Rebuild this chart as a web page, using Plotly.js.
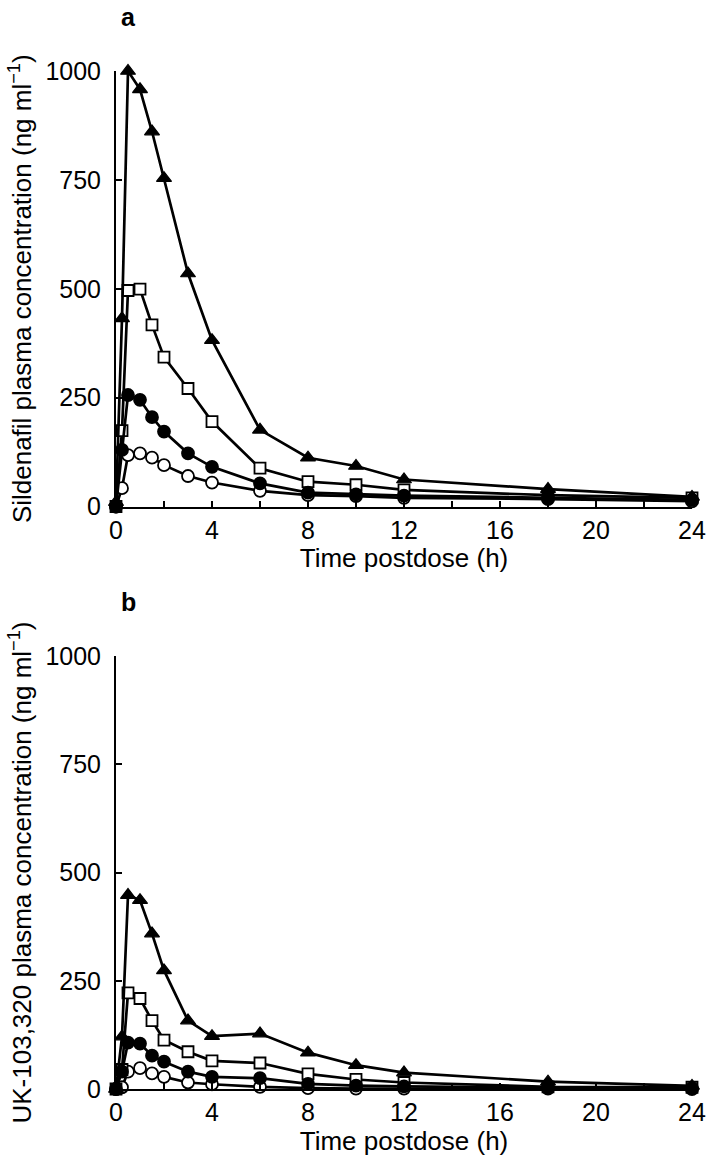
<!DOCTYPE html>
<html>
<head>
<meta charset="utf-8">
<script src="https://cdn.plot.ly/plotly-3.0.1.min.js"></script>
<style>
  html, body { margin: 0; padding: 0; background: #ffffff; }
  #chart { width: 714px; height: 1168px; }
</style>
</head>
<body>
<div id="chart"></div>
<script>
// Sampling times (h)
const times = [0, 0.25, 0.5, 1, 1.5, 2, 3, 4, 6, 8, 10, 12, 18, 24];

// Panel a: sildenafil plasma concentration (ng/ml)
const sildOpenCircle   = [0, 42, 118, 122, 112, 95, 70, 55, 36, 26, 24, 20, 17, 12];
const sildFilledCircle = [0, 130, 256, 245, 205, 172, 122, 91, 53, 32, 28, 25, 20, 15];
const sildOpenSquare   = [0, 174, 496, 499, 417, 343, 271, 195, 88, 57, 50, 38, 26, 20];
const sildTriangle     = [10, 432, 1000, 958, 861, 754, 535, 382, 176, 112, 93, 62, 40, 22];

// Panel b: UK-103,320 plasma concentration (ng/ml)
const ukOpenCircle   = [0, 4, 40, 48, 36, 28, 15, 11, 5, 2, 1, 1, 1, 0];
const ukFilledCircle = [0, 40, 107, 105, 77, 63, 40, 28, 25, 12, 8, 6, 3, 2];
const ukOpenSquare   = [0, 45, 222, 209, 158, 113, 86, 65, 60, 35, 22, 15, 5, 4];
const ukTriangle     = [0, 121, 448, 436, 359, 274, 158, 122, 128, 84, 55, 38, 17, 7];

// Axis ticks
const xTickVals = [0, 4, 8, 12, 16, 20, 24];
const xTickText = ['0', '4', '8', '12', '16', '20', '24'];
const xMinorVals = [2, 6, 10, 14, 18, 22];
const yTickVals = [0, 250, 500, 750, 1000];
const yTickText = ['0', '250', '500', '750', '1000'];

const FONT = 'Liberation Sans, Arial, Helvetica, sans-serif';

const styles = {
  openCircle:   {symbol: 'circle',       size: 12, color: '#ffffff', line: {color: '#000000', width: 1.8}},
  filledCircle: {symbol: 'circle',       size: 12, color: '#000000', line: {color: '#000000', width: 1.8}},
  openSquare:   {symbol: 'square',       size: 11, color: '#ffffff', line: {color: '#000000', width: 1.8}},
  triangle:     {symbol: 'triangle-up',  size: 13, color: '#000000', line: {color: '#000000', width: 1.2}}
};

function tr(y, style, xa, ya) {
  return {
    x: times, y: y, xaxis: xa, yaxis: ya,
    type: 'scatter', mode: 'lines+markers',
    line: {color: '#000000', width: 2.7},
    marker: style,
    cliponaxis: false,
    showlegend: false,
    hoverinfo: 'x+y'
  };
}

const data = [
  tr(sildOpenCircle, styles.openCircle, 'x', 'y'),
  tr(sildOpenSquare, styles.openSquare, 'x', 'y'),
  tr(sildTriangle, styles.triangle, 'x', 'y'),
  tr(sildFilledCircle, styles.filledCircle, 'x', 'y'),
  tr(ukOpenCircle, styles.openCircle, 'x2', 'y2'),
  tr(ukOpenSquare, styles.openSquare, 'x2', 'y2'),
  tr(ukTriangle, styles.triangle, 'x2', 'y2'),
  tr(ukFilledCircle, styles.filledCircle, 'x2', 'y2')
];

function xAxis(anchor) {
  return {
    anchor: anchor, domain: [0, 1], range: [0, 24],
    tickmode: 'array', tickvals: xTickVals, ticktext: xTickText,
    ticks: 'inside', ticklen: 6, tickwidth: 2, tickcolor: '#000',
    minor: {tickmode: 'array', tickvals: xMinorVals, ticks: 'inside', ticklen: 6, tickwidth: 2, tickcolor: '#000'},
    showline: true, linecolor: '#000', linewidth: 2,
    showgrid: false, zeroline: false,
    tickfont: {family: FONT, size: 25, color: '#000'},
    ticklabelstandoff: 0,
    title: {text: 'Time postdose (h)', font: {family: FONT, size: 26, color: '#000'}, standoff: 0},
    fixedrange: true
  };
}
function yAxis(anchor, domain, title) {
  return {
    anchor: anchor, domain: domain, range: [0, 1000],
    tickmode: 'array', tickvals: yTickVals, ticktext: yTickText,
    ticks: 'inside', ticklen: 6, tickwidth: 2, tickcolor: '#000',
    showline: true, linecolor: '#000', linewidth: 2,
    showgrid: false, zeroline: false,
    tickfont: {family: FONT, size: 25, color: '#000'},
    ticklabelstandoff: 8,
    title: {text: title, font: {family: FONT, size: 26, color: '#000'}, standoff: 6},
    fixedrange: true
  };
}

const layout = {
  width: 714, height: 1168,
  margin: {l: 116, r: 22, t: 71, b: 79},
  paper_bgcolor: '#ffffff', plot_bgcolor: '#ffffff',
  font: {family: FONT, color: '#000'},
  xaxis: xAxis('y'),
  yaxis: yAxis('x', [0.5722, 1], 'Sildenafil plasma concentration (ng ml<sup>−1</sup>)'),
  xaxis2: xAxis('y2'),
  yaxis2: yAxis('x2', [0, 0.4253], 'UK-103,320 plasma concentration (ng ml<sup>−1</sup>)'),
  annotations: [
    {text: '<b>a</b>', xref: 'paper', yref: 'paper', x: 0.005, y: 1.0, xanchor: 'left', yanchor: 'bottom',
     yshift: 38, showarrow: false, font: {family: FONT, size: 25, color: '#000'}},
    {text: '<b>b</b>', xref: 'paper', yref: 'paper', x: 0.005, y: 0.4253, xanchor: 'left', yanchor: 'bottom',
     yshift: 38, showarrow: false, font: {family: FONT, size: 25, color: '#000'}}
  ]
};

Plotly.newPlot('chart', data, layout, {displayModeBar: false, staticPlot: true});
</script>
</body>
</html>
